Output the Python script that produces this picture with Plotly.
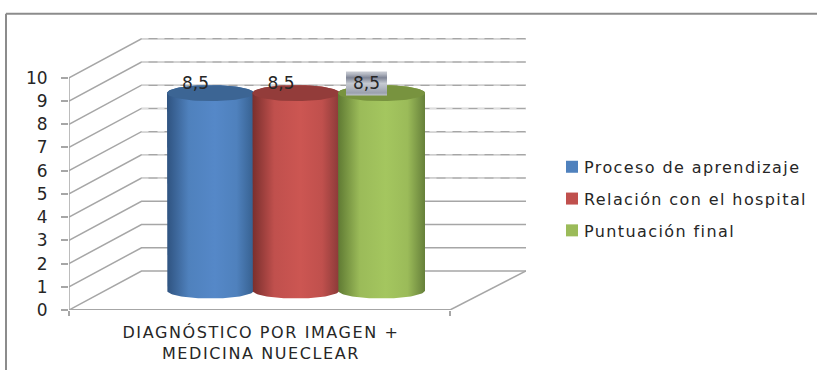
import numpy as np
import plotly.graph_objects as go

CATEGORY = "DIAGNÓSTICO POR IMAGEN +<br>MEDICINA NUECLEAR"
SERIES = ["Proceso de aprendizaje", "Relación con el hospital", "Puntuación final"]
VALUES = [8.5, 8.5, 8.5]
Y_TICKS = list(range(0, 11))
COLORS = ["#4f81bd", "#c0504d", "#9bbb59"]
EDGE_L = ["#2f5380", "#7a2f2d", "#5f7a33"]
EDGE_R = ["#36608f", "#8a3a38", "#66803a"]
MID = ["#5588c8", "#cc5652", "#a4c65f"]
TOPS = ["#3c6594", "#933c3a", "#78933f"]

W, H = 817, 370
L, BASE, FLOOR_W, DEPTH_L, DEPTH_R = 69, 310, 381, 72.5, 76
PLOT_W = FLOOR_W + DEPTH_R
PX_PER_UNIT = 23.2
DEPTH_V = 39 / PX_PER_UNIT
Y_MAX = 11.8
PLOT_H = Y_MAX * PX_PER_UNIT
GRID = "#a6a6a6"
TXT = "#262626"
FONT = "DejaVu Sans"

fig = go.Figure()


def seg(x, y, color=GRID, width=1.5, dash="solid"):
    fig.add_trace(go.Scatter(x=x, y=y, mode="lines", showlegend=False, hoverinfo="skip",
                             cliponaxis=False, line=dict(color=color, width=width, dash=dash)))


for v in Y_TICKS:
    seg([0, DEPTH_L, PLOT_W], [v, v + DEPTH_V, v + DEPTH_V])
    if v >= 4:
        seg([DEPTH_L, PLOT_W], [v + DEPTH_V, v + DEPTH_V], color="#ffffff", width=0.7, dash="7px,9px")
seg([0, 0], [0, Y_TICKS[-1]])
seg([0, FLOOR_W], [0, 0], width=2)
seg([FLOOR_W, PLOT_W], [0, DEPTH_V])

CYL_L, CYL_W, PITCH = 98, 87, 85.5
B = 8 / PX_PER_UNIT
t = np.linspace(0, np.pi, 50)
for i, (name, val) in enumerate(zip(SERIES, VALUES)):
    x0 = CYL_L + i * PITCH
    cx, rx = x0 + CYL_W / 2, CYL_W / 2
    y_base = DEPTH_V / 2
    y_top = val + DEPTH_V / 2
    ex = cx + rx * np.cos(t)
    ey = np.sin(t) * B
    xs = np.concatenate([ex, ex[::-1], ex[:1]])
    ys = np.concatenate([y_top + ey, y_base - ey[::-1], [y_top + ey[0]]])
    fig.add_trace(go.Scatter(
        x=xs, y=ys, mode="lines", fill="toself", line=dict(width=0), showlegend=False,
        hoverinfo="skip", cliponaxis=False,
        fillgradient=dict(type="horizontal", colorscale=[
            [0, EDGE_L[i]], [0.25, COLORS[i]], [0.55, MID[i]], [0.8, COLORS[i]], [1, EDGE_R[i]]]),
    ))
    a = np.linspace(0, 2 * np.pi, 80)
    fig.add_trace(go.Scatter(x=cx + rx * np.cos(a), y=y_top + np.sin(a) * B, mode="lines", fill="toself",
                             fillcolor=TOPS[i], line=dict(width=0), showlegend=False,
                             hoverinfo="skip", cliponaxis=False))

# highlighted data-label box of the third series
LABEL_SHIFT = -15
bx = CYL_L + 2 * PITCH + CYL_W / 2 + LABEL_SHIFT - 20.5
by = VALUES[2] + DEPTH_V / 2
fig.add_trace(go.Scatter(
    x=[bx, bx + 41, bx + 41, bx, bx], y=[by - 0.1, by - 0.1, by + 0.93, by + 0.93, by - 0.1],
    mode="lines", fill="toself", line=dict(width=0), showlegend=False, hoverinfo="skip", cliponaxis=False,
    fillgradient=dict(type="vertical", colorscale=[
        [0, "#bfc3cc"], [0.1, "#9aa0ad"], [0.5, "#c5c9d1"], [0.74, "#7f8596"], [0.9, "#b5b9c3"], [1, "#c9ccd3"]]),
))

fig.add_trace(go.Scatter(
    x=[CYL_L + i * PITCH + CYL_W / 2 + LABEL_SHIFT for i in range(3)],
    y=[v + DEPTH_V / 2 for v in VALUES],
    mode="text", text=[f"{v:.1f}".replace(".", ",") for v in VALUES],
    textposition="top center", textfont=dict(family=FONT, size=17, color=TXT),
    showlegend=False, hoverinfo="skip", cliponaxis=False))

for i, name in enumerate(SERIES):
    fig.add_trace(go.Scatter(x=[None], y=[None], mode="markers", name=name, legendgroup=name,
                             marker=dict(symbol="square", size=12, color=COLORS[i])))

top_y = (BASE - 14) / PLOT_H
bot_y = (BASE - H) / PLOT_H
left_x = (6 - L) / PLOT_W
right_x = (W - L) / PLOT_W
fig.update_layout(
    width=W, height=H, paper_bgcolor="white", plot_bgcolor="white",
    margin=dict(l=L, r=W - L - PLOT_W, t=BASE - PLOT_H, b=H - BASE, pad=0, autoexpand=False),
    font=dict(family=FONT, color=TXT),
    showlegend=True,
    legend=dict(x=(544 - L) / PLOT_W, xanchor="left", y=(BASE - 150) / PLOT_H,
                yanchor="top", font=dict(family=FONT, size=16, color=TXT), tracegroupgap=8,
                bgcolor="rgba(0,0,0,0)", itemclick=False),
    xaxis=dict(range=[0, PLOT_W], showgrid=False, zeroline=False, showline=False, automargin=False,
               tickvals=[192], ticktext=[CATEGORY], ticks="outside", ticklen=0,
               ticklabelstandoff=8, tickfont=dict(family=FONT, size=16, color=TXT),
               minor=dict(tickvals=[0, FLOOR_W], ticks="outside", ticklen=5, tickcolor=GRID, tickwidth=1.5)),
    yaxis=dict(range=[0, Y_MAX], showgrid=False, zeroline=False, showline=False, automargin=False,
               tickvals=Y_TICKS, ticks="outside", ticklen=7, tickcolor=GRID, tickwidth=1.5,
               ticklabelstandoff=10, tickfont=dict(family=FONT, size=17, color=TXT)),
    shapes=[
        dict(type="line", xref="paper", yref="paper", line=dict(color="#8c8c8c", width=2),
             x0=left_x, x1=right_x, y0=top_y, y1=top_y),
        dict(type="line", xref="paper", yref="paper", line=dict(color="#8c8c8c", width=2),
             x0=left_x, x1=left_x, y0=top_y, y1=bot_y),
    ],
)
POST = """
document.body.style.margin='0';
document.querySelectorAll('.legend, .legend *').forEach(function(e){e.removeAttribute('clip-path');e.style.clipPath='none';});
document.querySelectorAll('.legendtext').forEach(function(e){e.style.letterSpacing='1.4px';});
document.querySelectorAll('.xtick text').forEach(function(e){e.style.letterSpacing='1.6px';});
document.querySelectorAll('.legendsymbols').forEach(function(e){e.setAttribute('transform','translate(8,0)');});
"""
fig.write_html("out.html", config=dict(displayModeBar=False), post_script=POST)
